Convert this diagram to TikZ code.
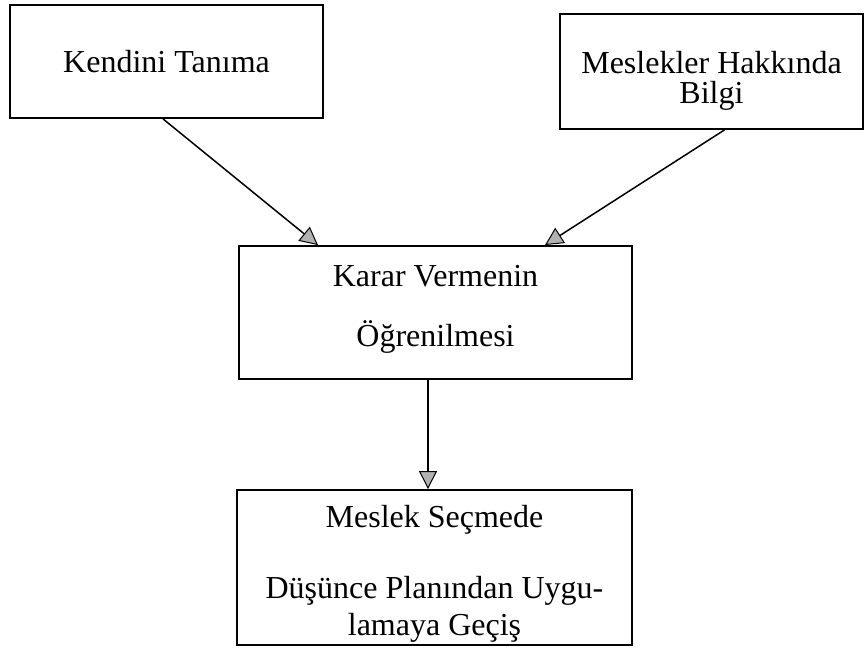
\documentclass[tikz,border=0pt]{standalone}
\usepackage{fontspec}
\setmainfont{Liberation Serif}
\usetikzlibrary{arrows.meta}
\begin{document}
\begin{tikzpicture}[x=1pt,y=-1pt,
  boxnode/.style={draw=black, line width=1.8pt, rectangle, inner sep=0pt, align=center,
    font=\fontsize{32}{36}\selectfont},
  txt/.style={inner sep=0pt, align=center, font=\fontsize{32}{36}\selectfont},
  arr/.style={draw=black, line width=1.5pt,
    -{Triangle[length=18pt,width=18pt,fill=gray!60,line width=1pt]}}]
\useasboundingbox (0,0) rectangle (865,650);
\node[boxnode, minimum width=313pt, minimum height=113pt] (b1) at (166.5,61.5) {Kendini Tanıma};
\node[boxnode, minimum width=303pt, minimum height=115pt] (b2) at (711.5,71.5) {\rule{0pt}{40pt}Meslekler Hakkında\\[-6pt]Bilgi};
\node[boxnode, minimum width=393pt, minimum height=133pt] (b3) at (435.5,312.5) {Karar Vermenin\\[24pt]Öğrenilmesi\rule[-13pt]{0pt}{13pt}};
\node[boxnode, minimum width=395pt, minimum height=155pt] (b4) at (434.5,567.5) {};
\node[txt] (t4) at ([yshift=-6pt]b4.center) {Meslek Seçmede\\[35pt]Düşünce Planından Uygu-\\[1pt]lamaya Geçiş};
\draw[arr] ([xshift=-3.5pt]b1.south) -- ([xshift=-117.5pt]b3.north);
\draw[arr] ([xshift=13pt]b2.south) -- ([xshift=109.5pt]b3.north);
\draw[arr] ([xshift=-7.5pt]b3.south) -- ([xshift=-6.5pt]b4.north);
\end{tikzpicture}
\end{document}
